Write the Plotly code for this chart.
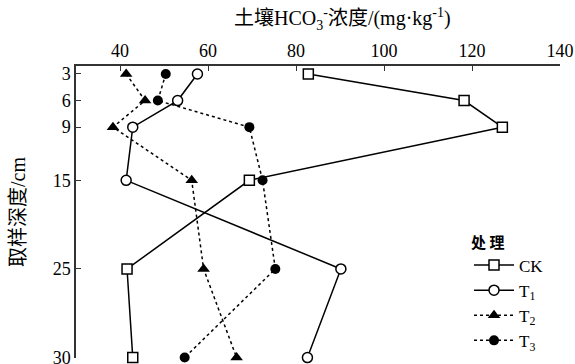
import plotly.graph_objects as go

# Depth labels and their plotting positions (30 cm drawn at a broken-axis position)
depth_labels = ["3", "6", "9", "15", "25", "30"]
depth_pos = [3, 6, 9, 15, 25, 35]

ck = [82.8, 118.2, 126.9, 69.4, 41.6, 42.9]
t1 = [57.6, 53.1, 42.9, 41.4, 90.2, 82.6]
t2 = [41.4, 45.7, 38.4, 56.3, 59.0, 66.5]
t3 = [50.4, 48.6, 69.4, 72.4, 75.3, 54.7]

x_ticks = [40, 60, 80, 100, 120, 140]

FONT = "Liberation Serif, Times New Roman, Noto Sans CJK SC, serif"

fig = go.Figure()
series = [
    ("CK", ck, "square", True, "solid"),
    ("T<sub>1</sub>", t1, "circle", True, "solid"),
    ("T<sub>2</sub>", t2, "triangle-up", False, "3px,3px"),
    ("T<sub>3</sub>", t3, "circle", False, "3px,3px"),
]
for name, vals, sym, hollow, dash in series:
    if hollow:
        marker = dict(size=10, symbol=sym, color="white",
                      line=dict(color="black", width=1.5))
    else:
        marker = dict(size=10 if sym == "circle" else 11, symbol=sym, color="black",
                      line=dict(color="black", width=0))
    fig.add_trace(go.Scatter(
        x=vals, y=depth_pos, name=name, mode="lines+markers",
        line=dict(color="black", width=1.5, dash=dash),
        marker=marker, cliponaxis=False,
    ))

fig.update_layout(
    width=575, height=364,
    margin=dict(l=76, r=15, t=66, b=6),
    paper_bgcolor="white", plot_bgcolor="white",
    font=dict(family=FONT, size=16, color="black"),
    showlegend=True,
    legend=dict(
        x=0.812, y=0.0, xanchor="left", yanchor="bottom",
        title=dict(text="<b>处 理</b>", font=dict(family="Noto Sans CJK SC", size=15)),
        font=dict(family=FONT, size=17),
        bgcolor="rgba(0,0,0,0)", tracegroupgap=0, itemwidth=40,
    ),
    xaxis=dict(
        side="top", range=[30, 140], tickvals=x_ticks,
        showline=True, linecolor="#333", linewidth=1.5,
        ticks="inside", ticklen=5, tickcolor="#333", tickwidth=1,
        showgrid=False, zeroline=False, automargin=False,
        tickfont=dict(family=FONT, size=18), ticklabeloverflow="allow",
    ),
    yaxis=dict(
        range=[35.05, 2.1], tickvals=depth_pos, ticktext=depth_labels,
        showline=True, linecolor="#333", linewidth=1.5,
        ticks="inside", ticklen=5, tickcolor="#333", tickwidth=1,
        showgrid=False, zeroline=False, automargin=False,
        tickfont=dict(family=FONT, size=18), ticklabeloverflow="allow",
    ),
)

fig.add_annotation(
    text="土壤HCO<sub>3</sub><sup>-</sup>浓度/(mg·kg<sup>-1</sup>)",
    xref="paper", yref="paper", x=0.55, y=1.0, yshift=47,
    xanchor="center", yanchor="middle", showarrow=False,
    font=dict(family=FONT, size=20),
)
fig.add_annotation(
    text="取样深度/cm", textangle=-90,
    xref="paper", yref="paper", x=0, y=0.5, xshift=-58,
    xanchor="center", yanchor="middle", showarrow=False,
    font=dict(family=FONT, size=20),
)

fig.write_html(
    "out.html",
    config={"displayModeBar": False},
    post_script="document.body.style.margin='0';document.body.style.overflow='hidden';",
)
